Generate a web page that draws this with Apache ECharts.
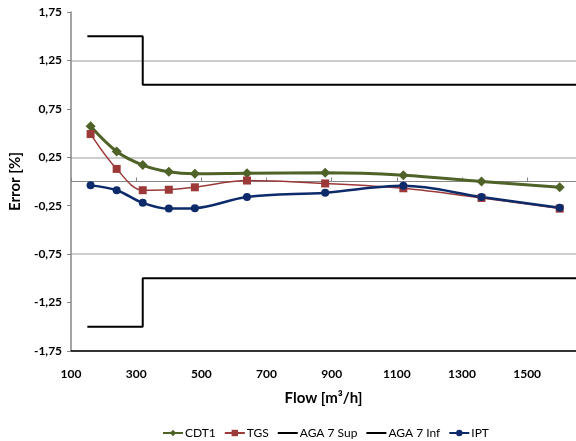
<!DOCTYPE html>
<html>
<head>
<meta charset="utf-8">
<script src="https://cdn.jsdelivr.net/npm/echarts@6/dist/echarts.min.js"></script>
<style>
  html, body { margin: 0; padding: 0; background: #fff; }
  #chart { width: 576px; height: 441px; }
</style>
</head>
<body>
<div id="chart"></div>
<script>
// flow points [m3/h]
const flow = [160, 240, 320, 400, 480, 640, 880, 1120, 1360, 1600];
// error [%]
const cdt1 = [0.57, 0.31, 0.17, 0.10, 0.08, 0.085, 0.09, 0.065, 0.0, -0.06];
const tgs  = [0.49, 0.13, -0.09, -0.085, -0.06, 0.01, -0.02, -0.07, -0.17, -0.28];
const ipt  = [-0.04, -0.09, -0.22, -0.28, -0.275, -0.16, -0.115, -0.045, -0.16, -0.27];
// AGA 7 limits (step lines)
const agaX   = [150, 320, 320, 1650];
const agaSup = [1.5, 1.5, 1.0, 1.0];
const agaInf = [-1.5, -1.5, -1.0, -1.0];
// tick labels
const xTicks = [100, 300, 500, 700, 900, 1100, 1300, 1500];
const yTicks = [-1.75, -1.25, -0.75, -0.25, 0.25, 0.75, 1.25, 1.75];

const font = 'Lato, "Open Sans", sans-serif';

function pairs(xs, ys) {
  return xs.map((x, i) => [x, ys[i]]);
}

function isYTick(v) {
  return yTicks.some(t => Math.abs(t - v) < 1e-6);
}

// gridlines every 0.25, only the labelled ones visible
const gridColors = [];
for (let i = 0; i <= 14; i++) {
  gridColors.push(i % 2 === 0 ? '#BDBDBD' : 'rgba(0,0,0,0)');
}
gridColors[14] = '#262626';

const chart = echarts.init(document.getElementById('chart'));
chart.setOption({
  animation: false,
  textStyle: { fontFamily: font },
  grid: { left: 70, right: 0, top: 12, bottom: 90 },
  legend: {
    top: 422,
    left: 157,
    itemWidth: 20,
    itemHeight: 8,
    itemGap: 8,
    textStyle: { fontSize: 12, color: '#000', fontFamily: font, padding: [0, 0, 0, -3] },
    data: [
      'CDT1',
      'TGS',
      { name: 'AGA 7 Sup', itemStyle: { opacity: 0 } },
      { name: 'AGA 7 Inf', itemStyle: { opacity: 0 } },
      'IPT'
    ]
  },
  xAxis: [
    {
      type: 'value',
      min: 100,
      max: 1650,
      interval: 100,
      name: 'Flow [m³/h]',
      nameLocation: 'middle',
      nameGap: 40,
      nameTextStyle: { fontSize: 15, fontWeight: 'bold', color: '#000', fontFamily: font },
      axisLine: { onZero: false, lineStyle: { color: '#000', width: 1.5 } },
      axisTick: { show: false },
      axisLabel: {
        customValues: xTicks,
        fontSize: 12,
        fontWeight: 'bold',
        color: '#000',
        margin: 17,
        formatter: v => String(v)
      },
      splitLine: { show: false }
    },
    {
      type: 'value',
      min: 100,
      max: 1650,
      interval: 100,
      axisLine: { onZero: true, lineStyle: { color: '#868686', width: 1 } },
      axisTick: { customValues: xTicks, length: 4, lineStyle: { color: '#868686' } },
      axisLabel: { show: false },
      splitLine: { show: false }
    }
  ],
  yAxis: {
    type: 'value',
    min: -1.75,
    max: 1.75,
    interval: 0.25,
    name: 'Error [%]',
    nameLocation: 'middle',
    nameGap: 38,
    nameTextStyle: { fontSize: 15, fontWeight: 'bold', color: '#000', fontFamily: font },
    axisLine: { show: true, onZero: false, lineStyle: { color: '#868686', width: 1.5 } },
    axisTick: { show: true, customValues: yTicks, length: 4, lineStyle: { color: '#868686' } },
    axisLabel: {
      fontSize: 12,
      fontWeight: 'bold',
      color: '#000',
      margin: 9,
      formatter: v => isYTick(v) ? v.toFixed(2).replace('.', ',') : ''
    },
    splitLine: { show: true, lineStyle: { color: gridColors, width: 1.5 } }
  },
  series: [
    {
      name: 'CDT1',
      type: 'line',
      smooth: 0.35,
      data: pairs(flow, cdt1),
      symbol: 'diamond',
      symbolSize: 10,
      itemStyle: { color: '#4F6228' },
      lineStyle: { color: '#4F6228', width: 3 }
    },
    {
      name: 'TGS',
      type: 'line',
      smooth: 0.35,
      data: pairs(flow, tgs),
      symbol: 'rect',
      symbolSize: 8,
      itemStyle: { color: '#9B3A38' },
      lineStyle: { color: '#9B3A38', width: 1.5 }
    },
    {
      name: 'AGA 7 Sup',
      type: 'line',
      data: pairs(agaX, agaSup),
      symbol: 'none',
      itemStyle: { color: '#000' },
      lineStyle: { color: '#000', width: 2 }
    },
    {
      name: 'AGA 7 Inf',
      type: 'line',
      data: pairs(agaX, agaInf),
      symbol: 'none',
      itemStyle: { color: '#000' },
      lineStyle: { color: '#000', width: 2 }
    },
    {
      name: 'IPT',
      type: 'line',
      smooth: 0.35,
      data: pairs(flow, ipt),
      symbol: 'circle',
      symbolSize: 8,
      itemStyle: { color: '#0D2B6B' },
      lineStyle: { color: '#0D2B6B', width: 2.5 }
    }
  ]
});
</script>
</body>
</html>
